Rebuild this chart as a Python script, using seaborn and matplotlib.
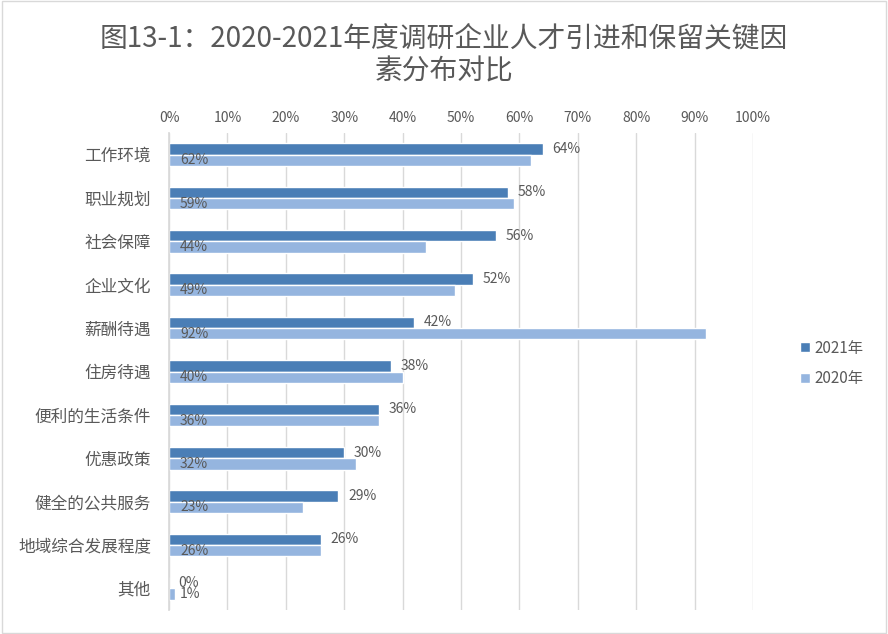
import pandas as pd
import seaborn as sns
import matplotlib.pyplot as plt
from matplotlib.patches import Rectangle

categories = ["工作环境", "职业规划", "社会保障", "企业文化", "薪酬待遇", "住房待遇",
              "便利的生活条件", "优惠政策", "健全的公共服务", "地域综合发展程度", "其他"]
values_2021 = [64, 58, 56, 52, 42, 38, 36, 30, 29, 26, 0]
values_2020 = [62, 59, 44, 49, 92, 40, 36, 32, 23, 26, 1]
years = ["2021年", "2020年"]
x_ticks = [0, 10, 20, 30, 40, 50, 60, 70, 80, 90, 100]

df = pd.DataFrame({
    "因素": categories * 2,
    "年份": [years[0]] * len(categories) + [years[1]] * len(categories),
    "比例": [v / 100 for v in values_2021 + values_2020],
})

sns.set_theme(style="whitegrid")
plt.rcParams["font.family"] = ["Noto Sans CJK SC", "DejaVu Sans"]

text_color = "#595959"
palette = {"2021年": "#4a7eb6", "2020年": "#95b5df"}

fig = plt.figure(figsize=(8.88, 6.34), dpi=100)
ax = fig.add_axes([169 / 888, 1 - 610 / 634, (753 - 169) / 888, (610 - 133) / 634])

sns.barplot(
    data=df,
    y="因素",
    x="比例",
    hue="年份",
    hue_order=years,
    order=categories,
    palette=palette,
    orient="h",
    width=0.52,
    saturation=1,
    ax=ax,
)

# 2021: labels just past the bar end
ax.bar_label(ax.containers[0], labels=[f"{v}%" for v in values_2021],
             padding=7, fontsize=10, color=text_color)

# 2020: labels at the bar base, inside
for bar, v in zip(ax.containers[1], values_2020):
    ax.text(0.019, bar.get_y() + bar.get_height() / 2, f"{v}%",
            ha="left", va="center", fontsize=10, color=text_color)

ax.set_xlim(0, 1)
ax.set_xticks([t / 100 for t in x_ticks])
ax.set_xticklabels([f"{t}%" for t in x_ticks])
ax.xaxis.tick_top()
ax.tick_params(axis="x", labelsize=10, colors=text_color, length=0, pad=6)
ax.tick_params(axis="y", labelsize=12, colors=text_color, length=0, pad=13)
ax.set_xlabel("")
ax.set_ylabel("")
ax.grid(axis="x", color="#d9d9d9", linewidth=1)
ax.grid(axis="y", visible=False)
for s in ["top", "right", "bottom"]:
    ax.spines[s].set_visible(False)
ax.spines["left"].set_color("#d9d9d9")
ax.set_facecolor("white")

ax.legend(loc="center left", bbox_to_anchor=(1.0, 0.517), frameon=False,
          fontsize=11, handlelength=0.6, handleheight=0.6, handletextpad=0.3,
          labelcolor=text_color, labelspacing=0.9, borderaxespad=2.7)

fig.text(0.5, 1 - 38 / 634, "图13-1：2020-2021年度调研企业人才引进和保留关键因",
         ha="center", va="center", fontsize=20, fontweight="light", color=text_color)
fig.text(0.5, 1 - 72 / 634, "素分布对比",
         ha="center", va="center", fontsize=20, fontweight="light", color=text_color)

fig.patches.append(Rectangle((0.002, 0.002), 0.996, 0.996, transform=fig.transFigure,
                             fill=False, edgecolor="#d9d9d9", linewidth=1))

plt.savefig("out.png", dpi=100)
